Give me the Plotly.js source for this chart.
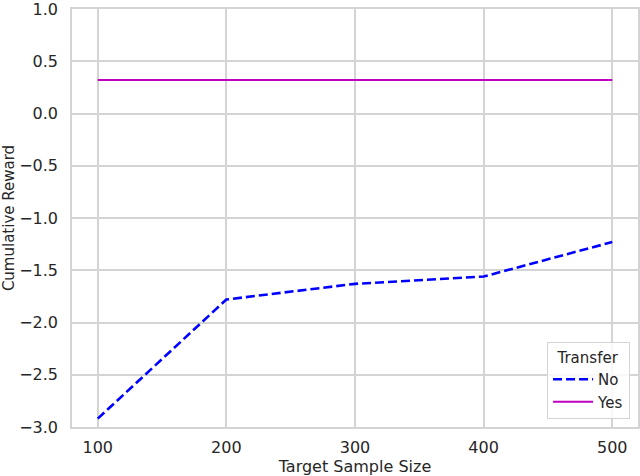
<!DOCTYPE html>
<html>
<head>
<meta charset="utf-8">
<script src="https://cdn.plot.ly/plotly-3.0.1.min.js"></script>
<style>
  html, body { margin: 0; padding: 0; background: #fff; }
  #grafica { width: 640px; height: 476px; }
</style>
</head>
<body>
<div id="grafica"></div>
<script>
// valores
const tamanos = [100, 200, 300, 400, 500];
const recompensaNo = [-2.92, -1.78, -1.63, -1.56, -1.23];
const recompensaSi = [0.32, 0.32, 0.32, 0.32, 0.32];
const ticksY = [-3.0, -2.5, -2.0, -1.5, -1.0, -0.5, 0.0, 0.5, 1.0];

const gris = '#d4d4d4';
const texto = '#262626';

const traces = [
  {
    x: tamanos, y: recompensaNo, type: 'scatter', mode: 'lines', name: 'No',
    line: { color: '#0000ff', width: 2.6, dash: '9px,4px' }
  },
  {
    x: tamanos, y: recompensaSi, type: 'scatter', mode: 'lines', name: 'Yes',
    line: { color: '#bf00bf', width: 2 }
  }
];

const ejeComun = {
  showgrid: true, gridcolor: gris, gridwidth: 1.5,
  showline: true, linecolor: gris, linewidth: 1.5, mirror: true,
  zeroline: false,
  ticks: 'outside', tickcolor: 'rgba(0,0,0,0)',
  ticklabeloverflow: 'allow',
  tickfont: { size: 16, color: texto }
};

const layout = {
  width: 640, height: 476,
  margin: { l: 72, r: 2, t: 9, b: 49 },
  paper_bgcolor: '#ffffff', plot_bgcolor: '#ffffff',
  font: { family: 'DejaVu Sans', color: texto, size: 16 },
  showlegend: true,
  legend: {
    x: 0.986, y: 0.018, xanchor: 'right', yanchor: 'bottom',
    bgcolor: 'rgba(255,255,255,0.8)', bordercolor: gris, borderwidth: 1,
    title: { text: 'Transfer', side: 'top center', font: { size: 15 } },
    font: { size: 15 }, itemwidth: 40, tracegroupgap: 0
  },
  xaxis: Object.assign({}, ejeComun, {
    range: [80, 520], tickvals: tamanos, ticklen: 5,
    title: { text: 'Target Sample Size', font: { size: 16 }, standoff: 5 }
  }),
  yaxis: Object.assign({}, ejeComun, {
    range: [-3, 1.0001], tickvals: ticksY, tickformat: '.1f', ticklen: 9,
    title: { text: 'Cumulative Reward', font: { size: 15 }, standoff: 6 }
  })
};

Plotly.newPlot('grafica', traces, layout, { displayModeBar: false });
</script>
</body>
</html>
